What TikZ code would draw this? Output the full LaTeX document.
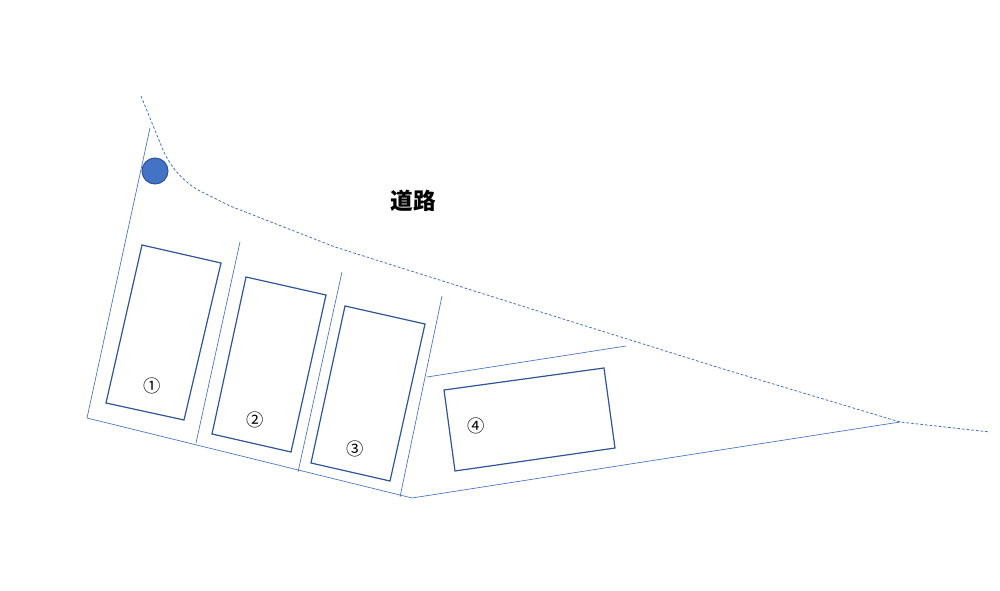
\documentclass[tikz,border=0pt]{standalone}
\usepackage{fontspec}
\newfontfamily\cjk{Noto Sans CJK JP}
\definecolor{lotblue}{HTML}{4472C4}
\definecolor{housblue}{HTML}{2F5597}
\tikzset{
  lotline/.style={lotblue, line width=0.5pt},
  house/.style={housblue, line width=0.9pt},
  roadline/.style={lotblue, dashed, line width=0.6pt, dash pattern=on 2pt off 1.5pt},
  lotnum/.style={font=\cjk\fontsize{13}{13}\selectfont}
}
\begin{document}
\begin{tikzpicture}[x=0.75pt,y=-0.75pt]
        \useasboundingbox (0,0) rectangle (1000,591);

        % Road edge
        \draw[roadline] (141,96) -- (163,150) .. controls (172,170) and (185,182) .. (198,190)
            -- (230,206) -- (335,247) -- (560,318) -- (720,368) -- (900,422) -- (990,432);
        \node[font=\cjk\bfseries\fontsize{17}{17}\selectfont] (road) at (413,201) {道路};

        % Lot boundary and dividers
        \draw[lotline] (150,128) -- (87,418) -- (412,498) -- (900,422);
        \draw[lotline] (240,242) -- (196,443);
        \draw[lotline] (342,272) -- (298,472);
        \draw[lotline] (442,296) -- (400,497);
        \draw[lotline] (427,377) -- (626,346);

        % Houses
        \draw[house] (142,245) -- (221,263) -- (184,420) -- (106,403) -- cycle;
        \draw[house] (246,277) -- (326,295) -- (291,452) -- (212,434) -- cycle;
        \draw[house] (345,306) -- (425,324) -- (390,481) -- (311,463) -- cycle;
        \draw[house] (444,390) -- (604,368) -- (615,448) -- (455,471) -- cycle;

        % Numbers
        \node[lotnum] (n1) at (152,386) {①};
        \node[lotnum] (n2) at (255,420) {②};
        \node[lotnum] (n3) at (355,449) {③};
        \node[lotnum] (n4) at (476,426) {④};

        % Marker
        \draw[fill=lotblue, draw=housblue, line width=0.8pt] (155,171) circle (13);
\end{tikzpicture}
\end{document}
